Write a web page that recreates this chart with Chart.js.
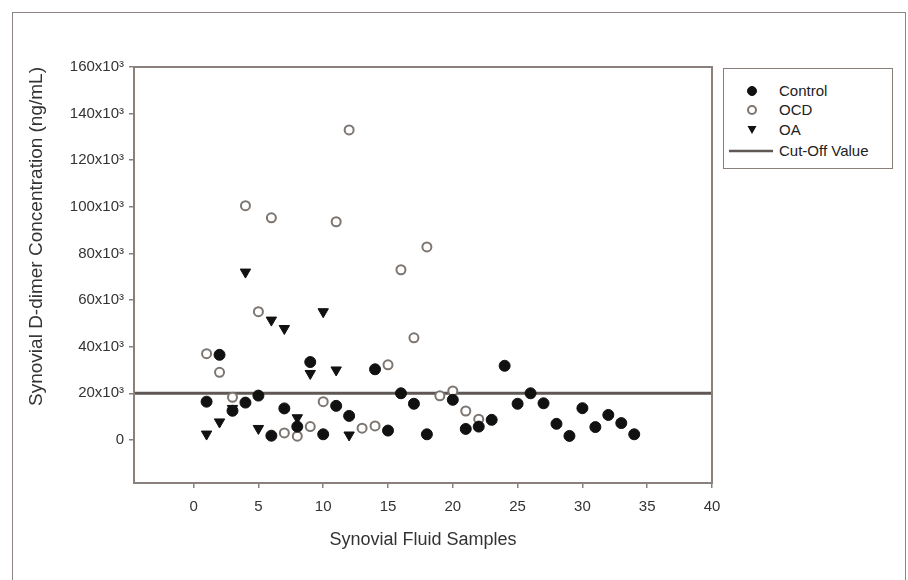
<!DOCTYPE html>
<html><head><meta charset="utf-8">
<script src="https://cdn.jsdelivr.net/npm/chart.js@4/dist/chart.umd.min.js"></script>
<style>
html,body{margin:0;padding:0;background:#fff;}
#wrap{position:relative;width:908px;height:580px;overflow:hidden;background:#fff;}
#frame{position:absolute;left:12px;top:12px;width:894px;height:620px;border:1px solid #8c8480;box-sizing:border-box;}
#c{position:absolute;left:0;top:0;}
#legend{position:absolute;left:723px;top:68px;width:170px;height:101px;border:1.5px solid #8a817c;box-sizing:border-box;background:#fff;font-family:"Liberation Sans",Arial,sans-serif;font-size:15px;color:#222;}
.item{position:absolute;left:0;width:100%;height:18px;}
.item svg{position:absolute;left:4px;top:0;}
.item span{position:absolute;left:55px;top:0px;line-height:18px;}
</style></head>
<body>
<div id="wrap">
  <div id="frame"></div>
  <canvas id="c" width="908" height="580"></canvas>
  <div id="legend"></div>
</div>
<script>
// ---- data (values in x10^3 ng/mL) ----
const controlX = [1,2,3,4,5,6,7,8,9,10,11,12,14,15,16,17,18,20,21,22,23,24,25,26,27,28,29,30,31,32,33,34];
const controlY = [16.4,36.5,12.5,16,19,1.8,13.5,5.7,33.4,2.4,14.6,10.3,30.3,4,20,15.5,2.4,17.2,4.7,5.7,8.6,31.8,15.5,20,15.7,6.9,1.7,13.6,5.5,10.7,7.2,2.4];
const ocdX = [1,2,3,4,5,6,7,8,9,10,11,12,13,14,15,16,17,18,19,20,21,22];
const ocdY = [37,29,18.3,100.5,55,95.3,3,1.6,5.7,16.4,93.6,133,5,6,32.2,73,43.8,82.8,18.9,21,12.4,8.9];
const oaX = [1,2,3,4,5,6,7,8,9,10,11,12];
const oaY = [2.5,7.7,13.5,72,4.9,51.4,47.8,9.5,28.5,55,30,2.1];
const cutoffValue = 20;
const seriesLabels = ['Control','OCD','OA','Cut-Off Value'];
const xRange = [-4.6, 40];
const yRange = [-18.5, 160];
const xTickStep = 5;
const yTickStep = 20;

const FONT = '"Liberation Sans", Arial, Helvetica, sans-serif';
Chart.defaults.font.family = FONT;

const pts = (xs, ys) => xs.map((x, i) => ({x, y: ys[i]}));

const frame = {
  id: 'frame',
  afterDatasetsDraw(chart) {
    const {ctx, chartArea: a} = chart;
    ctx.save();
    ctx.strokeStyle = '#8a817c';
    ctx.lineWidth = 2;
    ctx.strokeRect(a.left, a.top, a.right - a.left, a.bottom - a.top);
    ctx.restore();
  }
};

const chart = new Chart(document.getElementById('c'), {
  type: 'scatter',
  data: {
    datasets: [
      {label: seriesLabels[0], data: pts(controlX, controlY), pointStyle: 'circle', pointRadius: 5.5, backgroundColor: '#111', borderColor: '#111', borderWidth: 1, order: 1},
      {label: seriesLabels[1], data: pts(ocdX, ocdY), pointStyle: 'circle', pointRadius: 4.5, backgroundColor: '#fff', borderColor: '#7d7570', borderWidth: 2, order: 2},
      {label: seriesLabels[2], data: pts(oaX, oaY), pointStyle: 'triangle', rotation: 180, pointRadius: 6, backgroundColor: '#111', borderColor: '#111', borderWidth: 1, order: 3},
      {label: seriesLabels[3], type: 'line', data: [{x: xRange[0], y: cutoffValue}, {x: xRange[1], y: cutoffValue}], showLine: true, borderColor: '#5e5753', borderWidth: 3, pointRadius: 0, fill: false, order: 4}
    ]
  },
  options: {
    responsive: false,
    animation: false,
    layout: {padding: {left: 0, top: 67, right: 196, bottom: 0}},
    plugins: {legend: {display: false}, tooltip: {enabled: false}},
    scales: {
      x: {
        type: 'linear', min: xRange[0], max: xRange[1],
        ticks: {stepSize: xTickStep, includeBounds: false, autoSkip: false, maxRotation: 0, padding: 10, color: '#333', font: {size: 15}},
        grid: {drawOnChartArea: false, tickLength: 5, color: '#8a817c', lineWidth: 1.5},
        border: {color: '#8a817c', width: 2},
        title: {display: true, text: 'Synovial Fluid Samples', color: '#333', font: {size: 18}, padding: {top: 0, bottom: 29}},
        afterFit: s => { s.height = 97; }
      },
      y: {
        type: 'linear', min: yRange[0], max: yRange[1],
        ticks: {stepSize: yTickStep, includeBounds: false, autoSkip: false, padding: 5, color: '#333', font: {size: 15},
          callback: v => v === 0 ? '0' : v + 'x10³'},
        grid: {drawOnChartArea: false, tickLength: 5, color: '#8a817c', lineWidth: 1.5},
        border: {color: '#8a817c', width: 2},
        title: {display: true, text: 'Synovial D-dimer Concentration (ng/mL)', align: 'end', color: '#333', font: {size: 19}, padding: {top: 25, bottom: 0}},
        afterFit: s => { s.width = 134; }
      }
    }
  },
  plugins: [frame]
});

// HTML legend built from the chart datasets
const legend = document.getElementById('legend');
const rowsTop = [13, 32, 52, 73];
chart.data.datasets.forEach((d, i) => {
  const item = document.createElement('div');
  item.className = 'item';
  item.style.top = rowsTop[i] + 'px';
  let svg;
  if (d.type === 'line') {
    svg = `<svg width="46" height="18"><line x1="1" y1="9" x2="45" y2="9" stroke="${d.borderColor}" stroke-width="2.5"/></svg>`;
  } else if (d.pointStyle === 'triangle') {
    svg = `<svg width="46" height="18"><polygon points="19.5,5 28.5,5 24,13" fill="${d.backgroundColor}"/></svg>`;
  } else {
    svg = `<svg width="46" height="18"><circle cx="24" cy="9" r="${Math.min(d.pointRadius, 5) - 0.5}" fill="${d.backgroundColor}" stroke="${d.borderColor}" stroke-width="${d.borderWidth}"/></svg>`;
  }
  item.innerHTML = svg + '<span></span>';
  item.querySelector('span').textContent = d.label;
  legend.appendChild(item);
});
</script>
</body></html>
